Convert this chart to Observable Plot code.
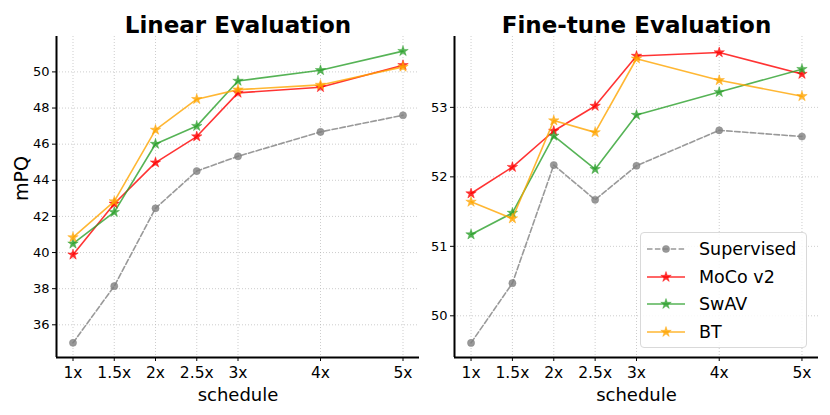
<!DOCTYPE html>
<html>
<head>
<meta charset="utf-8">
<script src="https://cdn.jsdelivr.net/npm/d3@7"></script>
<script src="https://cdn.jsdelivr.net/npm/@observablehq/plot@0.6"></script>
<style>
  body { margin: 0; background: #fff; font-family: "DejaVu Sans", sans-serif; }
  #wrap { position: relative; width: 830px; height: 415px; }
  #left, #right { position: absolute; top: 0; }
  #left { left: 0; }
  #right { left: 425px; }
  #legend { position: absolute; left: 640px; top: 232px; width: 167px; height: 116px;
    border: 1px solid #d9d9d9; border-radius: 4px; background: rgba(255,255,255,0.85); box-sizing: border-box; }
  .row { position: absolute; left: 0; height: 20px; display: flex; align-items: center; }
  .row span { font-size: 17.5px; color: #000; margin-left: 14px; }
</style>
</head>
<body>
<div id="wrap">
  <div id="left"></div>
  <div id="right"></div>
  <div id="legend"></div>
</div>
<script>
const schedule = [1, 1.5, 2, 2.5, 3, 4, 5];
const scheduleLabels = ["1x", "1.5x", "2x", "2.5x", "3x", "4x", "5x"];
const seriesNames = ["Supervised", "MoCo v2", "SwAV", "BT"];
const seriesColors = ["#808080", "#ff0000", "#2ca02c", "#ffa500"];

const linearSupervised = [35.0, 38.14, 42.45, 44.51, 45.33, 46.68, 47.6];
const linearMoco = [39.88, 42.7, 44.98, 46.42, 48.84, 49.15, 50.37];
const linearSwav = [40.49, 42.24, 46.01, 47.0, 49.5, 50.09, 51.15];
const linearBT = [40.84, 42.83, 46.79, 48.49, 49.02, 49.28, 50.28];

const finetuneSupervised = [49.61, 50.47, 52.17, 51.67, 52.16, 52.67, 52.58];
const finetuneMoco = [51.76, 52.14, 52.66, 53.02, 53.74, 53.79, 53.48];
const finetuneSwav = [51.17, 51.48, 52.59, 52.11, 52.89, 53.22, 53.55];
const finetuneBT = [51.64, 51.40, 52.81, 52.64, 53.70, 53.39, 53.16];

const linearTicks = [36, 38, 40, 42, 44, 46, 48, 50];
const finetuneTicks = [50, 51, 52, 53];

function rows(lists) {
  const out = [];
  lists.forEach((vals, si) => vals.forEach((v, i) => out.push({series: seriesNames[si], x: schedule[i], v})));
  return out;
}

function panel({data, yDomain, yTicks, title, ylabel, width, marginLeft, marginRight}) {
  const xDomain = [0.8, 5.2];
  const marks = [
    Plot.gridX(schedule, {stroke: "#b0b0b0", strokeOpacity: 0.8, strokeDasharray: "1,2", strokeWidth: 0.8}),
    Plot.gridY(yTicks, {stroke: "#b0b0b0", strokeOpacity: 0.8, strokeDasharray: "1,2", strokeWidth: 0.8}),
    Plot.axisX(schedule, {tickSize: 4, tickPadding: 5.5, fontSize: 15.5, tickFormat: d => scheduleLabels[schedule.indexOf(d)], label: null}),
    Plot.axisY(yTicks, {tickSize: 4, tickPadding: 3, fontSize: 13, tickFormat: d => String(d), label: null}),
    Plot.ruleX([xDomain[0]], {stroke: "#000", strokeWidth: 2}),
    Plot.ruleY([yDomain[0]], {stroke: "#000", strokeWidth: 2}),
  ];
  seriesNames.forEach((name, si) => {
    const d = data.filter(r => r.series === name);
    const sup = si === 0;
    marks.push(Plot.line(d, {x: "x", y: "v", stroke: seriesColors[si], strokeWidth: 1.6, strokeOpacity: 0.8,
      strokeDasharray: sup ? "5.5,2.4" : null}));
    marks.push(Plot.dot(d, {x: "x", y: "v", fill: seriesColors[si], stroke: seriesColors[si], strokeWidth: 0.5, fillOpacity: 0.8, strokeOpacity: 0.8,
      symbol: sup ? "circle" : "star", r: sup ? 3.6 : 3.3}));
  });
  marks.push(Plot.text([title], {frameAnchor: "top", dy: -4, lineAnchor: "bottom", fontSize: 23, fontWeight: "bold", fill: "#000"}));
  marks.push(Plot.text(["schedule"], {frameAnchor: "bottom", dy: 43.5, lineAnchor: "bottom", fontSize: 18, fill: "#000"}));
  if (ylabel) marks.push(Plot.text([ylabel], {frameAnchor: "left", dx: -35, dy: 4, rotate: -90, fontSize: 19, fill: "#000"}));
  return Plot.plot({
    width, height: 415, marginTop: 36, marginBottom: 58, marginLeft, marginRight,
    x: {domain: xDomain}, y: {domain: yDomain},
    style: {fontFamily: "DejaVu Sans", color: "#000", background: "transparent", overflow: "visible"},
    marks
  });
}

document.getElementById("left").append(panel({
  data: rows([linearSupervised, linearMoco, linearSwav, linearBT]),
  yDomain: [34.19, 51.96], yTicks: linearTicks, title: "Linear Evaluation", ylabel: "mPQ",
  width: 425, marginLeft: 56, marginRight: 6
}));
document.getElementById("right").append(panel({
  data: rows([finetuneSupervised, finetuneMoco, finetuneSwav, finetuneBT]),
  yDomain: [49.40, 54.02], yTicks: finetuneTicks, title: "Fine-tune Evaluation", ylabel: null,
  width: 405, marginLeft: 29, marginRight: 12
}));

// legend
const legend = d3.select("#legend");
const rowY = [16, 44, 71, 99];
seriesNames.forEach((name, si) => {
  const row = legend.append("div").attr("class", "row").style("top", (rowY[si] - 10) + "px").style("left", "6px");
  const svg = row.append("svg").attr("width", 38).attr("height", 20);
  svg.append("line").attr("x1", 0).attr("x2", 38).attr("y1", 10).attr("y2", 10)
    .attr("stroke", seriesColors[si]).attr("stroke-width", 1.6).attr("stroke-opacity", 0.8)
    .attr("stroke-dasharray", si === 0 ? "5.5,2.4" : null);
  const sym = d3.symbol().type(si === 0 ? d3.symbolCircle : d3.symbolStar).size(si === 0 ? Math.PI * 3.6 * 3.6 : Math.PI * 3.3 * 3.3);
  svg.append("path").attr("d", sym()).attr("transform", "translate(19,10)")
    .attr("fill", seriesColors[si]).attr("fill-opacity", 0.8).attr("stroke", seriesColors[si]).attr("stroke-opacity", 0.8).attr("stroke-width", 0.5);
  row.append("span").text(name);
});
</script>
</body>
</html>
